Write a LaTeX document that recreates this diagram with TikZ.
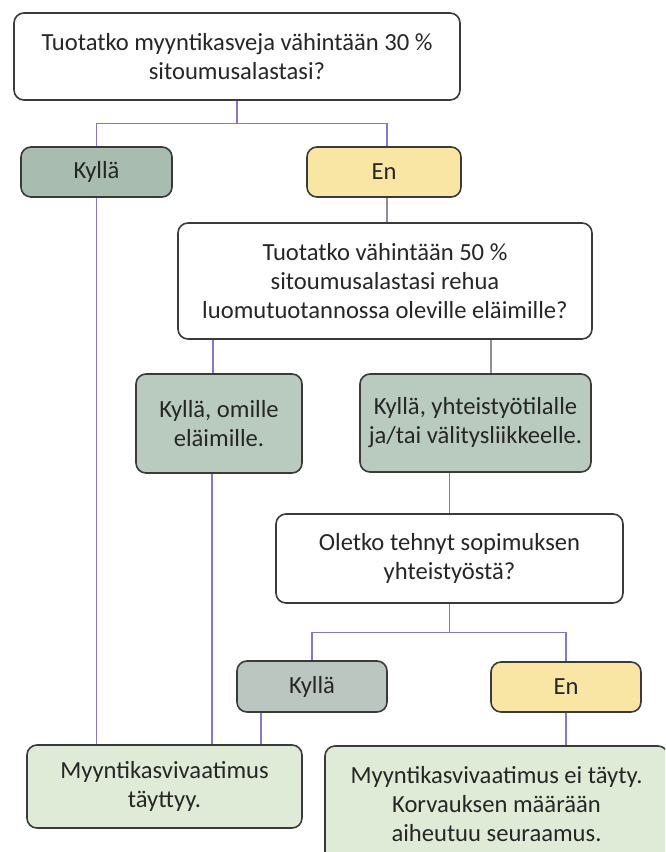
\documentclass[tikz,border=0pt]{standalone}
\usepackage{fontspec}
\setmainfont{Carlito}
\usetikzlibrary{positioning}

\definecolor{sage}{HTML}{A8BCB0}
\definecolor{sagelt}{HTML}{B9CABE}
\definecolor{sagegr}{HTML}{BCC6C0}
\definecolor{cream}{HTML}{FAE6A4}
\definecolor{mint}{HTML}{DFEBD6}
\definecolor{edge}{HTML}{3A3A3A}
\definecolor{wire}{HTML}{8478CC}
\definecolor{wiregr}{HTML}{8C909A}

\begin{document}
\begin{tikzpicture}[
  x=0.5pt, y=-0.5pt,
  box/.style={draw=edge, line width=0.8pt, rounded corners=5pt, align=center,
              font=\fontsize{12.3}{14.5}\selectfont, text=black!85, inner sep=0pt},
  askbox/.style={box, fill=white},
  yesbox/.style={box, fill=sage},
  nobox/.style={box, fill=cream},
  resbox/.style={box, fill=mint},
  link/.style={wire, line width=0.6pt},
  linkgr/.style={wiregr, line width=0.6pt}
]
\useasboundingbox (0,0) rectangle (665,852);
\clip (0,0) rectangle (665,852);

\node[askbox, minimum width=223pt, minimum height=43.5pt] (q1) at (237,56.5)
  {Tuotatko myyntikasveja vähintään 30 \%\\sitoumusalastasi?};
\node[yesbox, minimum width=75.5pt, minimum height=25pt] (yes1) at (96.5,172) {Kyllä};
\node[nobox, minimum width=77pt, minimum height=25pt] (no1) at (384,172) {En};
\node[askbox, minimum width=207pt, minimum height=58pt] (q2) at (385,281)
  {Tuotatko vähintään 50 \%\\sitoumusalastasi rehua\\luomutuotannossa oleville eläimille?};
\node[yesbox, fill=sagelt, minimum width=83pt, minimum height=49.5pt] (yes2a) at (219,423.5)
  {Kyllä, omille\\eläimille.};
\node[yesbox, fill=sagelt, minimum width=115.5pt, minimum height=49pt] (yes2b) at (475.5,423)
  {Kyllä, yhteistyötilalle\\ja/tai välitysliikkeelle.};
\node[askbox, minimum width=173.5pt, minimum height=44.5pt] (q3) at (449.5,558.5)
  {Oletko tehnyt sopimuksen\\yhteistyöstä?};
\node[yesbox, fill=sagegr, minimum width=75pt, minimum height=25.5pt] (yes3) at (312,686.5) {Kyllä};
\node[nobox, minimum width=75pt, minimum height=25pt] (no3) at (566,687) {En};
\node[resbox, minimum width=137.5pt, minimum height=41.5pt] (end1) at (164.5,786.5)
  {Myyntikasvivaatimus\\täyttyy.};
\node[resbox, minimum width=171.5pt, minimum height=58pt] (end2) at (496.5,804)
  {Myyntikasvivaatimus ei täyty.\\Korvauksen määrään\\aiheutuu seuraamus.};

% connectors
\draw[link] (q1.south) -- ++(0,23) -| (yes1.north);
\draw[link] (q1.south) -- ++(0,23) -| ([xshift=1.5pt]no1.north);
\draw[link] (yes1.south) -- (yes1.south |- end1.north);
\draw[linkgr] ([xshift=1.5pt]no1.south) -- ([xshift=1.5pt]no1.south |- q2.north);
\draw[link] ([xshift=-3pt]yes2a.north) -- ([xshift=-3pt]yes2a.north |- q2.south);
\draw[linkgr] ([xshift=7.75pt]yes2b.north) -- ([xshift=7.75pt]yes2b.north |- q2.south);
\draw[link] ([xshift=-3.5pt]yes2a.south) -- ([xshift=-3.5pt]yes2a.south |- end1.north);
\draw[link] (q3.north) -- (q3.north |- yes2b.south);
\draw[link] (q3.south) -- ++(0,29) -| (yes3.north);
\draw[link] (q3.south) -- ++(0,29) -| (no3.north);
\draw[link] ([xshift=-25.5pt]yes3.south) -- ([xshift=-25.5pt]yes3.south |- end1.north);
\draw[link] (no3.south) -- (no3.south |- end2.north);
\end{tikzpicture}
\end{document}
